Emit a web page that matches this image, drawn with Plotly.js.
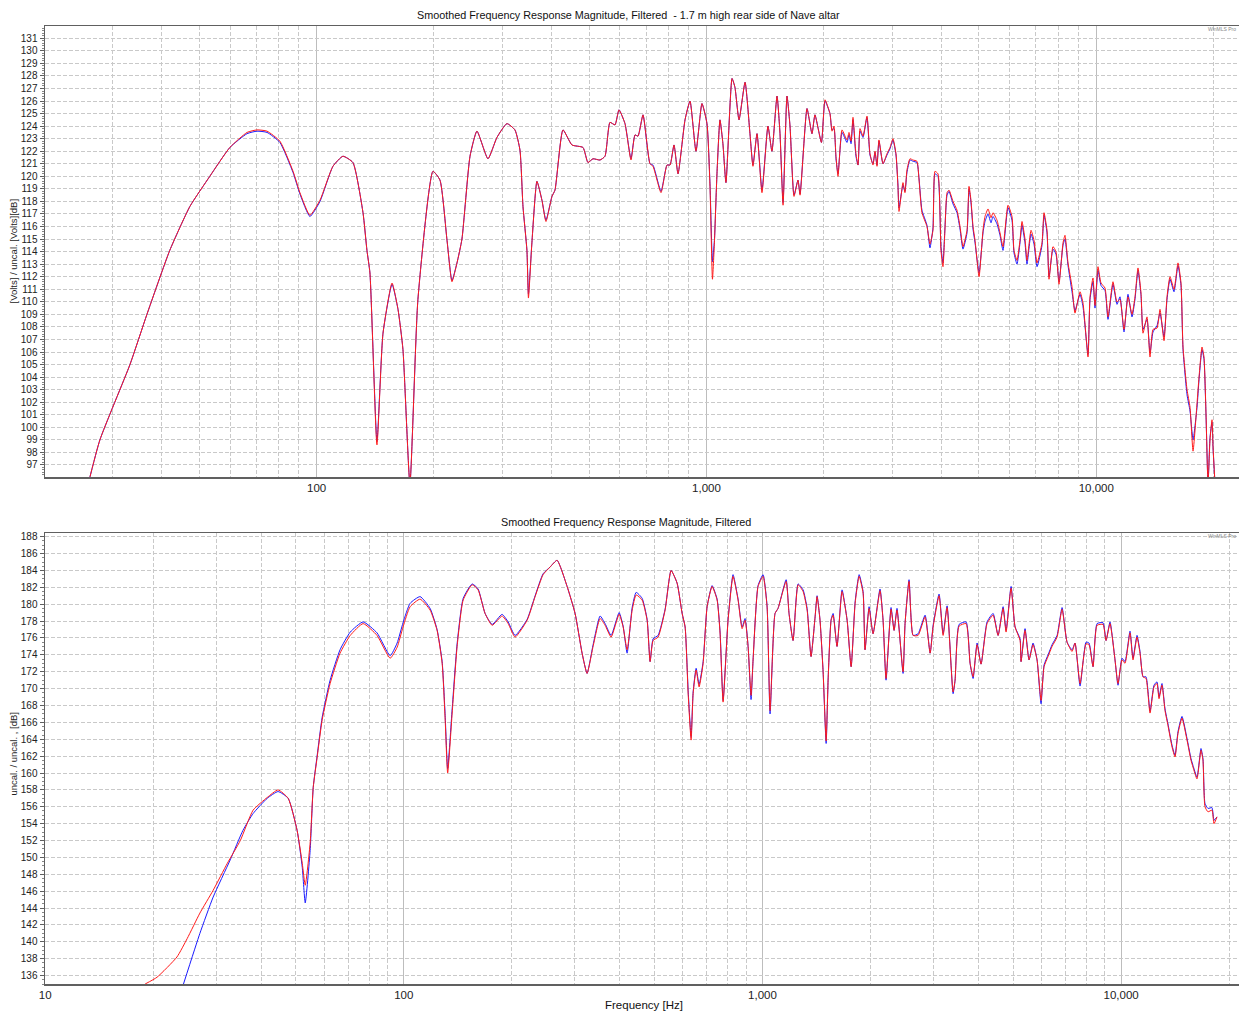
<!DOCTYPE html>
<html>
<head>
<meta charset="utf-8">
<script src="https://cdn.plot.ly/plotly-3.0.1.min.js"></script>
<style>html,body{margin:0;padding:0;background:#fff;}#chart{width:1239px;height:1013px;}</style>
</head>
<body>
<div id="chart"></div>
<script>
// ---------- Top chart data (Hz, dB) ----------
var topFreq = [
 25.9, 27.8, 33.2, 36.7, 42.0, 47.3, 53.2, 59.9, 66.3, 70.3,
 74.6, 80.5, 87.0, 90.6, 96.1, 102.0, 110.1, 116.8, 123.9, 131.5,
 134.6, 137.0, 142.8, 148.0, 156.1, 161.7, 166.5, 173.5, 181.9, 198.8,
 207.2, 216.0, 222.4, 229.1, 235.9, 247.4, 257.8, 275.1, 290.1, 307.7,
 322.6, 332.3, 338.3, 346.3, 349.4, 356.6, 367.4, 378.4, 387.5, 401.5,
 408.7, 428.5, 451.8, 482.2, 496.6, 511.5, 533.1, 549.1, 565.5, 582.6,
 596.5, 618.0, 640.3, 655.7, 667.4, 687.4, 716.4, 729.1, 764.5, 792.1,
 806.3, 825.5, 845.3, 881.0, 907.4, 940.0, 973.8, 1003, 1021, 1036,
 1048, 1064, 1083, 1102, 1122, 1163, 1183, 1212, 1256, 1293,
 1316, 1348, 1388, 1438, 1472, 1517, 1544, 1572, 1609, 1638,
 1677, 1717, 1738, 1811, 1865, 1898, 1972, 2014, 2074, 2099,
 2124, 2149, 2175, 2227, 2293, 2321, 2349, 2376, 2418, 2448,
 2477, 2521, 2581, 2627, 2674, 2706, 2738, 2770, 2837, 2904,
 2957, 3009, 3063, 3099, 3118, 3192, 3230, 3268, 3327, 3386,
 3467, 3508, 3571, 3678, 3744, 3811, 3856, 3925, 3995, 4043,
 4090, 4141, 4190, 4290, 4392, 4471, 4550, 4660, 4715, 4770,
 4828, 4886, 5003, 5121, 5182, 5275, 5369, 5433, 5563, 5662,
 5763, 5936, 6078, 6150, 6260, 6372, 6448, 6563, 6641, 6800,
 6922, 7046, 7256, 7343, 7474, 7563, 7743, 7881, 8023, 8215,
 8312, 8461, 8664, 8817, 9083, 9246, 9522, 9635, 9806, 9924,
 10101, 10281, 10527, 10715, 11036, 11300, 11502, 11778, 12059, 12347,
 12568, 12793, 13022, 13177, 13492, 13733, 13979, 14313, 14569, 14918,
 15185, 15456, 15825, 16203, 16493, 16690, 17089, 17395, 17707, 18129,
 18345, 18670, 18892, 19116, 19345, 19575, 19807, 19924, 20160
];
var topRed = [
 95.4, 99.0, 105.0, 109.0, 114.1, 117.6, 120.0, 122.3, 123.5, 123.7,
 123.6, 122.8, 120.4, 118.7, 116.9, 118.1, 120.8, 121.6, 121.1, 117.1,
 114.1, 112.3, 98.6, 107.5, 111.5, 109.4, 106.2, 95.5, 110.2, 120.4,
 119.7, 114.9, 111.6, 113.1, 115.0, 121.6, 123.6, 121.4, 123.1, 124.2,
 123.7, 122.1, 117.6, 114.1, 110.3, 114.7, 119.6, 118.1, 116.4, 118.4,
 118.9, 123.7, 122.5, 122.3, 121.1, 121.4, 121.3, 121.6, 124.3, 124.1,
 125.3, 124.2, 121.3, 123.3, 123.2, 124.9, 121.0, 120.8, 118.7, 120.9,
 120.9, 122.5, 120.2, 124.5, 126.0, 122.0, 125.8, 124.2, 119.2, 111.8,
 114.7, 120.2, 124.5, 122.6, 119.5, 127.8, 127.1, 124.5, 127.5, 123.4,
 120.8, 123.4, 118.7, 124.0, 122.0, 126.4, 123.4, 117.7, 126.4, 124.0,
 118.4, 119.7, 118.5, 125.4, 123.4, 124.9, 122.7, 126.1, 125.0, 123.6,
 124.0, 121.6, 120.0, 123.7, 122.9, 123.5, 122.8, 124.7, 121.8, 120.9,
 123.8, 123.2, 124.8, 121.8, 120.9, 122.0, 120.8, 122.9, 121.0, 121.8,
 122.3, 123.0, 121.8, 119.2, 117.2, 119.5, 118.7, 120.5, 121.4, 121.3,
 121.2, 119.8, 117.1, 116.0, 114.6, 115.7, 120.4, 120.2, 114.1, 112.8,
 115.7, 118.7, 118.9, 118.0, 117.3, 116.0, 114.4, 115.7, 119.2, 118.1,
 116.0, 114.9, 112.0, 115.7, 116.8, 117.4, 116.7, 117.1, 116.5, 115.5,
 114.4, 117.7, 116.8, 114.1, 113.3, 114.9, 116.4, 115.0, 113.3, 115.7,
 114.9, 113.1, 114.7, 117.1, 115.7, 111.8, 114.4, 114.0, 111.4, 114.7,
 115.3, 113.1, 111.2, 109.1, 110.8, 109.9, 105.6, 110.4, 111.9, 109.7,
 112.8, 111.5, 111.1, 108.8, 111.6, 110.0, 110.2, 107.8, 110.4, 109.0,
 110.4, 112.7, 110.7, 107.5, 108.8, 105.6, 107.8, 107.9, 109.4, 106.9,
 110.4, 112.0, 111.0, 113.1, 111.5, 106.4, 103.0, 101.6, 98.1, 101.9,
 104.0, 106.4, 105.6, 101.1, 95.5, 99.0, 100.6, 98.5, 95.5
];
var topBlue = [
 95.4, 99.0, 105.0, 109.0, 114.1, 117.6, 120.0, 122.3, 123.4, 123.6,
 123.5, 122.7, 120.3, 118.6, 116.8, 118.0, 120.8, 121.6, 121.1, 117.1,
 114.1, 112.3, 98.9, 107.5, 111.4, 109.4, 106.2, 95.5, 110.2, 120.4,
 119.7, 114.9, 111.7, 113.1, 115.0, 121.6, 123.6, 121.4, 123.1, 124.2,
 123.7, 122.1, 117.6, 114.1, 110.6, 114.7, 119.6, 118.1, 116.5, 118.4,
 118.9, 123.7, 122.5, 122.3, 121.1, 121.4, 121.3, 121.6, 124.3, 124.1,
 125.3, 124.2, 121.4, 123.3, 123.2, 124.9, 121.0, 120.9, 118.8, 120.9,
 120.9, 122.5, 120.2, 124.5, 126.0, 122.0, 125.8, 124.2, 119.4, 113.2,
 114.9, 120.2, 124.5, 122.6, 119.5, 127.8, 127.1, 124.5, 127.5, 123.4,
 120.9, 123.4, 118.9, 124.0, 122.0, 126.4, 123.4, 117.9, 126.4, 124.0,
 118.5, 119.7, 118.6, 125.4, 123.4, 124.9, 122.7, 126.0, 125.0, 123.7,
 123.8, 121.4, 120.2, 123.5, 122.7, 123.3, 122.6, 124.5, 121.6, 120.9,
 123.6, 123.1, 124.7, 121.7, 121.0, 121.9, 120.9, 122.8, 121.0, 121.7,
 122.2, 122.9, 121.7, 119.3, 117.5, 119.3, 118.8, 120.3, 121.3, 121.2,
 121.1, 119.9, 117.3, 116.1, 114.3, 115.9, 120.2, 120.0, 114.4, 113.1,
 115.9, 118.5, 118.8, 117.8, 117.1, 115.8, 114.2, 115.5, 119.0, 117.9,
 115.8, 114.7, 112.3, 115.5, 116.4, 117.0, 116.3, 116.8, 116.2, 115.3,
 114.1, 117.5, 116.5, 113.9, 113.0, 114.7, 116.1, 114.7, 113.0, 115.4,
 114.6, 112.8, 114.5, 116.9, 115.5, 112.0, 114.2, 113.8, 111.6, 114.5,
 115.0, 112.9, 110.8, 109.3, 110.6, 109.6, 105.8, 110.2, 111.6, 109.5,
 112.5, 111.3, 110.9, 108.6, 111.4, 109.8, 110.4, 107.6, 110.6, 108.8,
 110.2, 112.5, 110.5, 107.8, 108.6, 105.9, 107.6, 108.1, 109.1, 107.2,
 110.2, 111.8, 110.8, 112.9, 111.3, 106.2, 102.6, 101.3, 99.0, 101.6,
 103.8, 106.2, 105.4, 101.0, 95.5, 99.2, 100.4, 98.4, 95.5
];

// ---------- Bottom chart data (Hz, dB) ----------
var botRedFreq = [
 19.0, 20.5, 23.3, 24.9, 27.0, 29.4, 32.2, 35.0, 38.0, 41.6,
 44.6, 47.6, 50.4, 52.1, 53.1, 54.8, 55.9, 57.3, 59.2, 62.3,
 66.4, 70.9, 77.0, 84.2, 91.6, 95.8, 99.5, 104.1, 111.0, 118.4,
 123.8, 127.9, 130.4, 132.5, 136.4, 140.8, 146.4, 155.1, 161.1, 168.5,
 176.3, 187.9, 195.4, 204.3, 220.7, 232.3, 244.5, 255.7, 267.5, 285.3,
 300.3, 314.1, 324.3, 337.1, 352.6, 364.1, 378.4, 398.4, 408.8, 419.4,
 433.2, 444.4, 461.8, 476.8, 486.1, 495.5, 511.6, 535.2, 556.2, 578.0,
 597.1, 608.6, 620.5, 632.5, 640.7, 653.2, 665.8, 683.2, 700.9, 723.7,
 747.3, 761.8, 776.6, 801.9, 827.9, 855.0, 877.4, 894.4, 911.8, 929.4,
 941.5, 972.1, 1004, 1030, 1050, 1084, 1105, 1164, 1186, 1217,
 1257, 1298, 1332, 1366, 1402, 1420, 1447, 1476, 1505, 1524,
 1554, 1574, 1614, 1667, 1722, 1767, 1813, 1860, 1908, 1932,
 1983, 2034, 2127, 2169, 2211, 2283, 2328, 2372, 2466, 2498,
 2563, 2630, 2716, 2841, 2934, 2991, 3108, 3189, 3272, 3400,
 3444, 3533, 3696, 3792, 3866, 3967, 4069, 4229, 4396, 4539,
 4688, 4778, 4934, 5062, 5228, 5260, 5397, 5537, 5681, 5829,
 5981, 6098, 6256, 6420, 6629, 6845, 7068, 7298, 7440, 7683,
 7984, 8139, 8350, 8568, 8904, 9078, 9312, 9616, 9802, 10058,
 10254, 10588, 10794, 11074, 11290, 11510, 11734, 12039, 12352, 12592,
 12755, 13002, 13255, 13513, 13864, 14134, 14409, 14783, 15265, 15662,
 15864, 16276, 16699, 16914, 17133, 17468, 17921, 18154, 18508
];
var botRed = [
 135.0, 135.8, 138.2, 140.4, 143.4, 146.1, 149.3, 152.0, 155.6, 157.1,
 158.0, 157.0, 153.2, 149.3, 146.7, 151.7, 158.3, 161.8, 166.3, 170.6,
 174.2, 176.3, 177.7, 176.3, 173.6, 174.9, 177.3, 179.7, 180.6, 179.3,
 176.9, 173.0, 166.3, 160.0, 167.1, 175.0, 180.5, 182.3, 181.7, 178.9,
 177.5, 178.6, 177.7, 176.1, 178.1, 180.9, 183.5, 184.4, 185.2, 182.1,
 178.9, 174.2, 171.8, 175.0, 178.3, 177.5, 176.1, 178.8, 177.3, 174.6,
 179.3, 181.1, 180.5, 178.1, 173.2, 175.7, 176.1, 179.3, 184.0, 182.5,
 178.9, 177.3, 169.4, 163.9, 169.4, 172.2, 170.2, 173.0, 179.7, 182.1,
 180.5, 176.5, 168.4, 178.1, 183.3, 180.5, 177.1, 178.1, 175.0, 169.2,
 173.4, 182.1, 183.3, 179.7, 167.4, 178.9, 179.5, 182.7, 178.9, 175.7,
 182.3, 181.5, 179.3, 173.8, 178.5, 180.9, 178.1, 172.0, 163.8, 171.0,
 178.1, 178.7, 175.0, 181.5, 178.1, 172.6, 180.1, 183.3, 181.3, 174.6,
 179.5, 176.5, 181.6, 178.1, 171.2, 179.4, 176.9, 179.3, 172.0, 177.7,
 182.7, 176.3, 176.3, 178.5, 174.2, 177.3, 181.0, 176.3, 179.6, 169.6,
 171.0, 177.4, 177.7, 173.0, 171.4, 175.2, 172.9, 177.7, 178.7, 176.3,
 179.5, 176.7, 181.9, 177.3, 175.7, 173.2, 176.9, 173.4, 175.2, 173.4,
 168.6, 172.6, 173.8, 175.0, 176.1, 179.4, 175.5, 174.4, 175.4, 170.6,
 175.3, 175.2, 172.6, 177.5, 177.6, 175.7, 177.7, 173.4, 170.6, 173.4,
 173.0, 176.6, 173.4, 176.1, 174.2, 171.4, 171.2, 167.1, 170.2, 170.6,
 168.8, 170.4, 167.4, 165.6, 163.1, 161.9, 164.7, 166.5, 163.9, 161.5,
 160.7, 159.3, 162.7, 161.5, 156.0, 155.4, 155.6, 154.0, 154.8
];
var botBlueFreq = [
 24.3, 27.0, 29.4, 32.8, 35.6, 38.0, 41.6, 44.6, 47.6, 50.4,
 52.1, 53.1, 54.8, 55.9, 57.3, 59.2, 62.3, 66.4, 70.9, 77.0,
 84.2, 91.6, 95.8, 99.5, 104.1, 111.0, 118.4,
 123.8, 127.9, 130.4, 132.5, 136.4, 140.8, 146.4, 155.1, 161.1, 168.5,
 176.3, 187.9, 195.4, 204.3, 220.7, 232.3, 244.5, 255.7, 267.5, 285.3,
 300.3, 314.1, 324.3, 337.1, 352.6, 364.1, 378.4, 398.4, 408.8, 419.4,
 433.2, 444.4, 461.8, 476.8, 486.1, 495.5, 511.6, 535.2, 556.2, 578.0,
 597.1, 608.6, 620.5, 632.5, 640.7, 653.2, 665.8, 683.2, 700.9, 723.7,
 747.3, 761.8, 776.6, 801.9, 827.9, 855.0, 877.4, 894.4, 911.8, 929.4,
 941.5, 972.1, 1004, 1030, 1050, 1084, 1105, 1164, 1186, 1217,
 1257, 1298, 1332, 1366, 1402, 1420, 1447, 1476, 1505, 1524,
 1554, 1574, 1614, 1667, 1722, 1767, 1813, 1860, 1908, 1932,
 1983, 2034, 2127, 2169, 2211, 2283, 2328, 2372, 2466, 2498,
 2563, 2630, 2716, 2841, 2934, 2991, 3108, 3189, 3272, 3400,
 3444, 3533, 3696, 3792, 3866, 3967, 4069, 4229, 4396, 4539,
 4688, 4778, 4934, 5062, 5228, 5260, 5397, 5537, 5681, 5829,
 5981, 6098, 6256, 6420, 6629, 6845, 7068, 7298, 7440, 7683,
 7984, 8139, 8350, 8568, 8904, 9078, 9312, 9616, 9802, 10058,
 10254, 10588, 10794, 11074, 11290, 11510, 11734, 12039, 12352, 12592,
 12755, 13002, 13255, 13513, 13864, 14134, 14409, 14783, 15265, 15662,
 15864, 16276, 16699, 16914, 17133, 17468, 17921, 18154, 18508
];
var botBlue = [
 135.0, 141.0, 145.3, 149.7, 153.2, 155.2, 157.0, 157.8, 157.0, 153.2,
 148.8, 144.6, 150.8, 158.3, 162.0, 166.6, 171.0, 174.6, 176.7, 177.9,
 176.6, 173.9, 175.4, 177.8, 180.1, 180.9, 179.5,
 177.0, 173.2, 166.8, 160.5, 167.6, 175.3, 180.7, 182.4, 181.8, 178.9,
 177.6, 178.8, 177.9, 176.3, 178.2, 181.0, 183.6, 184.4, 185.2, 182.1,
 178.9, 174.2, 171.8, 175.2, 178.6, 177.7, 176.3, 179.0, 177.4, 174.2,
 179.6, 181.4, 180.7, 178.2, 173.2, 175.9, 176.3, 179.4, 184.0, 182.5,
 178.9, 177.3, 169.8, 164.3, 169.6, 172.4, 170.5, 173.2, 179.7, 182.2,
 180.6, 176.7, 168.6, 178.2, 183.5, 180.6, 177.3, 178.3, 175.0, 168.7,
 173.4, 182.2, 183.5, 179.8, 167.0, 178.9, 179.5, 182.9, 178.9, 175.7,
 182.4, 181.7, 179.5, 173.8, 178.5, 181.0, 178.1, 172.0, 163.5, 171.0,
 178.2, 178.9, 175.0, 181.7, 178.1, 172.6, 180.3, 183.5, 181.5, 174.6,
 179.7, 176.5, 181.8, 178.1, 171.0, 179.6, 176.9, 179.5, 171.8, 177.7,
 182.9, 176.3, 176.5, 178.7, 174.2, 177.5, 181.2, 176.5, 179.8, 169.4,
 171.0, 177.6, 177.9, 173.0, 171.2, 175.4, 172.9, 177.9, 178.9, 176.3,
 179.7, 176.9, 182.1, 177.3, 175.9, 173.2, 177.1, 173.4, 175.4, 173.4,
 168.2, 172.8, 174.0, 175.2, 176.3, 179.6, 175.5, 174.6, 175.4, 170.3,
 175.5, 175.4, 172.6, 177.7, 177.8, 175.7, 177.9, 173.4, 170.4, 173.6,
 173.2, 176.8, 173.6, 176.3, 174.4, 171.4, 171.4, 167.3, 170.4, 170.8,
 169.0, 170.6, 167.6, 165.8, 163.3, 162.1, 164.9, 166.7, 164.1, 161.7,
 160.9, 159.5, 162.9, 161.7, 156.4, 155.8, 155.9, 154.4, 154.8
];

// ---------- Tick labels / grid values ----------
var topTickVals = [100, 1000, 10000];
var topTickText = ['100', '1,000', '10,000'];
var botTickVals = [10, 100, 1000, 10000];
var botTickText = ['10', '100', '1,000', '10,000'];
var minorFreqs = [20, 30, 40, 50, 60, 70, 80, 90,
                  200, 300, 400, 500, 600, 700, 800, 900,
                  2000, 3000, 4000, 5000, 6000, 7000, 8000, 9000, 20000];

var topTitle = 'Smoothed Frequency Response Magnitude, Filtered \u00a0- 1.7 m high rear side of Nave altar';
var botTitle = 'Smoothed Frequency Response Magnitude, Filtered';
var topYTitle = '[Volts] / uncal. [Volts][dB]';
var botYTitle = 'uncal. / uncal. , [dB]';
var xTitle = 'Frequency [Hz]';
var watermark = 'WinMLS Pro';

var RED = '#ff1a1a', BLUE = '#1a1aff';
var lineSpec = function (c) { return {color: c, width: 1, shape: 'spline', smoothing: 0.5}; };

var traces = [
  {x: topFreq, y: topBlue, xaxis: 'x', yaxis: 'y', mode: 'lines', line: lineSpec(BLUE), hoverinfo: 'skip'},
  {x: topFreq, y: topRed, xaxis: 'x', yaxis: 'y', mode: 'lines', line: lineSpec(RED), hoverinfo: 'skip'},
  {x: botBlueFreq, y: botBlue, xaxis: 'x2', yaxis: 'y2', mode: 'lines', line: lineSpec(BLUE), hoverinfo: 'skip'},
  {x: botRedFreq, y: botRed, xaxis: 'x2', yaxis: 'y2', mode: 'lines', line: lineSpec(RED), hoverinfo: 'skip'}
];

var GRID = '#c9c9c9', DECADE = '#bdbdbd', AXIS = '#606060';

function xAxis(range, anchor, vals, text) {
  return {
    type: 'log', range: range, anchor: anchor, domain: [0, 1],
    tickmode: 'array', tickvals: vals, ticktext: text,
    showgrid: true, gridcolor: DECADE, gridwidth: 1,
    showline: true, linecolor: AXIS, linewidth: 1.5, mirror: true,
    ticks: '', zeroline: false, automargin: false,
    tickfont: {size: 11.5, color: '#222'},
    minor: {tickmode: 'array', tickvals: minorFreqs, showgrid: true,
            gridcolor: GRID, griddash: '4px,2px', gridwidth: 1, ticks: ''}
  };
}
function yAxis(domain, range, dtick, mdtick, anchor) {
  return {
    domain: domain, range: range, anchor: anchor,
    tickmode: 'linear', tick0: 0, dtick: dtick,
    ticks: 'outside', ticklen: 4, tickcolor: AXIS, tickwidth: 1,
    showline: true, linecolor: AXIS, linewidth: 1.5, mirror: false,
    showgrid: true, gridcolor: GRID, griddash: '4px,2px', gridwidth: 1,
    zeroline: false, automargin: false,
    tickfont: {size: 10, color: '#222'},
    minor: {dtick: mdtick, ticks: 'outside', ticklen: 2, tickcolor: '#888', showgrid: false}
  };
}

var W = 1239, H = 1013, ML = 45, MR = 0, MT = 26, MB = 29;
var PW = W - ML - MR, PH = H - MT - MB;
function py(pix) { return (H - MB - pix) / PH; }
function px(pix) { return (pix - ML) / PW; }

var layout = {
  width: W, height: H,
  margin: {l: ML, r: MR, t: MT, b: MB, pad: 0},
  paper_bgcolor: '#ffffff', plot_bgcolor: '#ffffff',
  showlegend: false,
  font: {family: 'Liberation Sans, Arial, sans-serif', size: 11, color: '#222'},
  xaxis: xAxis([Math.log10(20.1), Math.log10(23230)], 'y', topTickVals, topTickText),
  yaxis: yAxis([py(477), 1], [96.04, 131.98], 1, 0.2, 'x'),
  xaxis2: xAxis([0.9995, 4.3287], 'y2', botTickVals, botTickText),
  yaxis2: yAxis([0, py(533.3)], [135.0, 188.4], 2, 0.5, 'x2'),
  annotations: [
    {text: topTitle, xref: 'paper', yref: 'paper', x: px(628), y: py(15), xanchor: 'center', yanchor: 'middle', showarrow: false, font: {size: 10.8, color: '#111'}},
    {text: botTitle, xref: 'paper', yref: 'paper', x: px(626), y: py(522), xanchor: 'center', yanchor: 'middle', showarrow: false, font: {size: 10.8, color: '#111'}},
    {text: topYTitle, xref: 'paper', yref: 'paper', x: px(12.5), y: py(251), textangle: -90, xanchor: 'center', yanchor: 'middle', showarrow: false, font: {size: 9.5, color: '#222'}},
    {text: botYTitle, xref: 'paper', yref: 'paper', x: px(12.5), y: py(754), textangle: -90, xanchor: 'center', yanchor: 'middle', showarrow: false, font: {size: 9.5, color: '#222'}},
    {text: xTitle, xref: 'paper', yref: 'paper', x: px(644), y: py(1005), xanchor: 'center', yanchor: 'middle', showarrow: false, font: {size: 11.5, color: '#111'}},
    {text: watermark, xref: 'paper', yref: 'paper', x: px(1238), y: py(29), xanchor: 'right', yanchor: 'middle', showarrow: false, font: {size: 5, color: '#888'}},
    {text: watermark, xref: 'paper', yref: 'paper', x: px(1238), y: py(536), xanchor: 'right', yanchor: 'middle', showarrow: false, font: {size: 5, color: '#888'}}
  ]
};

Plotly.newPlot('chart', traces, layout, {staticPlot: true, displayModeBar: false});
</script>
</body>
</html>
